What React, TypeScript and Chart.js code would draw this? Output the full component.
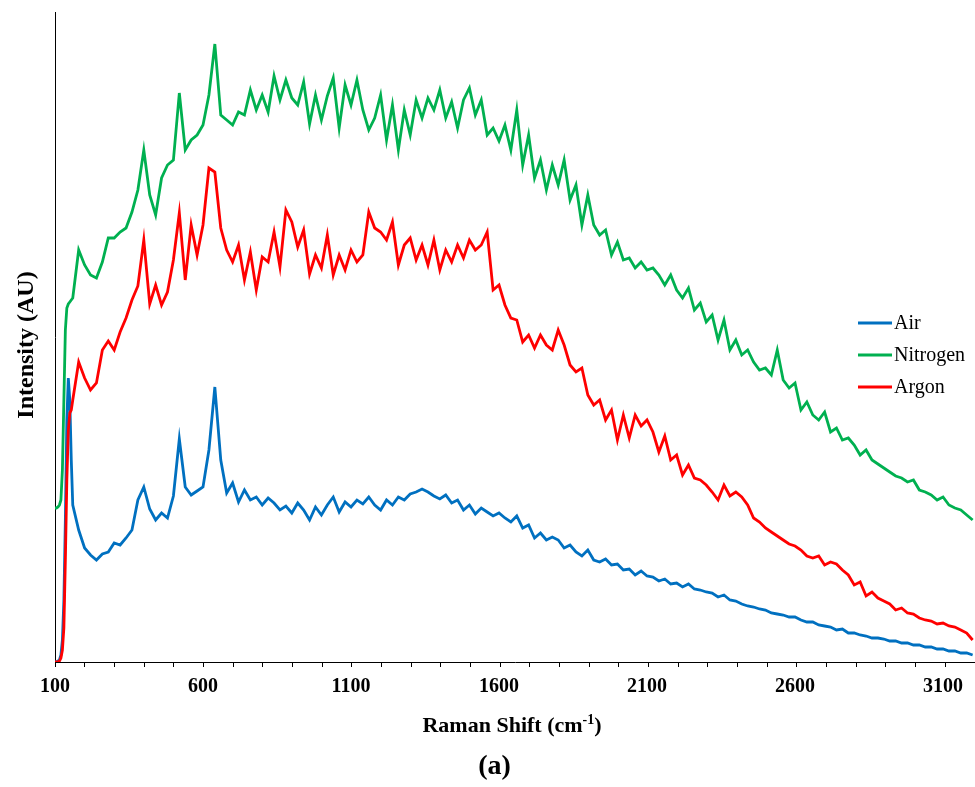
import { useEffect, useRef } from "react";
import { Chart, registerables } from "chart.js";

Chart.register(...registerables);

// Raman shift sampling grid (cm-1): fine steps over the laser cut-off edge, then every 20 cm-1
const RAMAN_SHIFT: number[] = [];
for (let s = 100; s < 160; s += 5) RAMAN_SHIFT.push(s);
for (let s = 160; s <= 3200; s += 20) RAMAN_SHIFT.push(s);

const X_TICK_LABELS = [100, 600, 1100, 1600, 2100, 2600, 3100];

// Intensity (arbitrary units) for each shift value
const AIR = [
  0, 0, 1, 2, 7, 22, 62, 142, 242, 284, 262, 202,
  157,
  132, 114, 107, 102, 108, 110, 119, 117, 124, 132,
  162, 175, 153, 142, 149, 144, 166,
  223, 175, 167, 171, 175,
  212, 275, 202, 169, 179,
  160, 172, 162, 165, 157,
  164, 159, 152, 156, 149,
  159, 152, 142, 155, 147,
  157, 165, 150, 160, 155,
  162, 158, 165, 157, 152,
  162, 157, 165, 162, 168,
  170, 173, 170, 166, 163,
  167, 159, 162, 152, 157,
  148, 154, 150, 146, 149,
  144, 140, 146, 134, 137,
  124, 129, 122, 125, 122,
  114, 117, 110, 106, 112,
  102, 100, 103, 97, 98,
  92, 93, 87, 91, 86,
  85, 81, 83, 78, 79,
  75, 78, 73, 72, 70,
  69, 65, 67, 62, 61,
  58, 56, 55, 53, 52,
  49, 48, 47, 45, 45,
  42, 40, 40, 37, 36,
  35, 32, 33, 29, 29,
  27, 26, 24, 24, 23,
  21, 21, 19, 19, 17,
  17, 15, 15, 13, 13,
  11, 11, 9, 9, 7,
];

const NITROGEN = [
  154, 154, 155, 157, 162, 192, 262, 332, 354, 358, 360, 362,
  364,
  412, 397, 387, 384, 400, 424, 424, 430, 434, 450,
  472, 512, 467, 447, 484, 497, 502,
  569, 512, 522, 527, 537,
  567, 618, 547, 542, 537,
  550, 547, 572, 552, 567,
  550, 586, 562, 582, 564,
  557, 580, 538, 567, 542,
  566, 584, 534, 577, 557,
  582, 552, 532, 544, 567,
  522, 557, 512, 552, 527,
  562, 544, 564, 552, 572,
  544, 560, 534, 562, 574,
  547, 562, 527, 534, 521,
  537, 512, 552, 497, 527,
  484, 502, 472, 497, 477,
  502, 462, 477, 437, 467,
  437, 427, 432, 407, 420,
  402, 404, 394, 400, 392,
  394, 387, 377, 387, 372,
  364, 374, 352, 359, 340,
  347, 322, 342, 312, 322,
  307, 312, 300, 292, 294,
  287, 312, 282, 274, 279,
  252, 260, 247, 242, 250,
  230, 234, 222, 224, 217,
  207, 212, 202, 198, 194,
  190, 186, 184, 180, 182,
  172, 170, 167, 162, 165,
  157, 154, 152, 147, 142,
];

const ARGON = [
  0, 0, 0, 1, 4, 12, 34, 102, 182, 232, 249, 252,
  262,
  300, 284, 272, 279, 312, 321, 312, 330, 344, 362,
  376, 422, 358, 377, 357, 370, 402,
  449, 382, 437, 407, 437,
  494, 490, 434, 412, 400,
  417, 382, 410, 372, 405,
  400, 430, 395, 452, 440,
  415, 432, 388, 407, 394,
  427, 387, 407, 392, 412,
  400, 407, 450, 434, 430,
  422, 440, 397, 417, 424,
  402, 417, 397, 422, 392,
  412, 400, 417, 404, 422,
  412, 417, 430, 372, 377,
  357, 344, 342, 320, 327,
  314, 327, 317, 312, 332,
  317, 297, 290, 294, 267,
  257, 262, 242, 252, 222,
  247, 224, 247, 236, 242,
  230, 210, 226, 202, 207,
  187, 197, 184, 182, 177,
  170, 162, 177, 166, 170,
  165, 157, 144, 140, 134,
  130, 126, 122, 118, 116,
  112, 106, 104, 106, 97,
  100, 98, 92, 87, 77,
  80, 66, 70, 64, 61,
  58, 52, 54, 49, 48,
  44, 42, 41, 38, 39,
  36, 35, 32, 29, 22,
];

const SERIES = [
  { label: "Air", values: AIR, color: "#0070C0", order: 3 },
  { label: "Nitrogen", values: NITROGEN, color: "#00B050", order: 2 },
  { label: "Argon", values: ARGON, color: "#FF0000", order: 1 },
];

const LEGEND_ORDER = ["Air", "Nitrogen", "Argon"];

const SERIF = "'Liberation Serif', 'Times New Roman', serif";

const annotations = {
  id: "spectrumText",
  afterDraw(chart: Chart) {
    const { ctx } = chart;
    const xScale = chart.scales.x;
    ctx.save();
    ctx.fillStyle = "#000";

    // x tick labels, placed through the x scale
    ctx.font = `bold 20px ${SERIF}`;
    ctx.textAlign = "center";
    ctx.textBaseline = "alphabetic";
    X_TICK_LABELS.forEach((v) => {
      ctx.fillText(String(v), xScale.getPixelForValue(v), 692);
    });

    // y-axis title
    ctx.save();
    ctx.translate(33, 345);
    ctx.rotate(-Math.PI / 2);
    ctx.font = `bold 24px ${SERIF}`;
    ctx.textAlign = "center";
    ctx.textBaseline = "alphabetic";
    ctx.fillText("Intensity (AU)", 0, 0);
    ctx.restore();

    // x-axis title with superscript
    const main = "Raman Shift (cm";
    const sup = "-1";
    const close = ")";
    ctx.textBaseline = "alphabetic";
    ctx.textAlign = "left";
    ctx.font = `bold 22px ${SERIF}`;
    const wMain = ctx.measureText(main).width;
    const wClose = ctx.measureText(close).width;
    ctx.font = `bold 14px ${SERIF}`;
    const wSup = ctx.measureText(sup).width;
    const total = wMain + wSup + wClose;
    let x = 512 - total / 2;
    const base = 732;
    ctx.font = `bold 22px ${SERIF}`;
    ctx.fillText(main, x, base);
    x += wMain;
    ctx.font = `bold 14px ${SERIF}`;
    ctx.fillText(sup, x, base - 8);
    x += wSup;
    ctx.font = `bold 22px ${SERIF}`;
    ctx.fillText(close, x, base);

    // panel label
    ctx.font = `bold 28px ${SERIF}`;
    ctx.textAlign = "center";
    ctx.fillText("(a)", 494.5, 774);

    // legend
    ctx.font = `20px ${SERIF}`;
    ctx.textAlign = "left";
    ctx.textBaseline = "middle";
    LEGEND_ORDER.forEach((name, i) => {
      const s = SERIES.find((d) => d.label === name)!;
      const y = 323 + i * 32;
      ctx.strokeStyle = s.color;
      ctx.lineWidth = 3;
      ctx.beginPath();
      ctx.moveTo(858, y);
      ctx.lineTo(892, y);
      ctx.stroke();
      ctx.fillText(name, 894, y + 1);
    });

    ctx.restore();
  },
};

export default function App() {
  const canvasRef = useRef<HTMLCanvasElement | null>(null);

  useEffect(() => {
    if (!canvasRef.current) return;
    const chart = new Chart(canvasRef.current, {
      type: "line",
      data: {
        datasets: SERIES.map((s) => ({
          label: s.label,
          data: RAMAN_SHIFT.map((shift, i) => ({ x: shift, y: s.values[i] })),
          borderColor: s.color,
          backgroundColor: s.color,
          borderWidth: 2.8,
          pointRadius: 0,
          tension: 0,
          order: s.order,
        })),
      },
      options: {
        animation: false,
        responsive: false,
        devicePixelRatio: 1,
        layout: { padding: { top: 12, right: 0, bottom: 0, left: 0 } },
        plugins: {
          legend: { display: false },
          tooltip: { enabled: false },
        },
        scales: {
          x: {
            type: "linear",
            min: 100,
            max: 3208,
            afterFit: (scale: any) => {
              scale.height = 125;
              scale.paddingLeft = 0;
              scale.paddingRight = 0;
            },
            border: { display: true, color: "#000", width: 1 },
            grid: {
              display: true,
              drawOnChartArea: false,
              drawTicks: true,
              tickLength: 5,
              color: "#000",
            },
            ticks: {
              stepSize: 100,
              includeBounds: false,
              autoSkip: false,
              maxRotation: 0,
              color: "rgba(0,0,0,0)",
              font: { family: SERIF, size: 20, weight: "bold" },
              callback: () => "",
            },
          },
          y: {
            type: "linear",
            min: 0,
            max: 650,
            afterFit: (scale: any) => {
              scale.width = 55;
            },
            border: { display: true, color: "#000", width: 1 },
            grid: { display: false, drawTicks: false },
            ticks: { display: false },
          },
        },
      },
      plugins: [annotations],
    });
    return () => chart.destroy();
  }, []);

  return (
    <div style={{ position: "absolute", left: 0, top: 0, width: 975, height: 787, background: "#fff" }}>
      <canvas ref={canvasRef} width={975} height={787} style={{ display: "block" }} />
    </div>
  );
}
